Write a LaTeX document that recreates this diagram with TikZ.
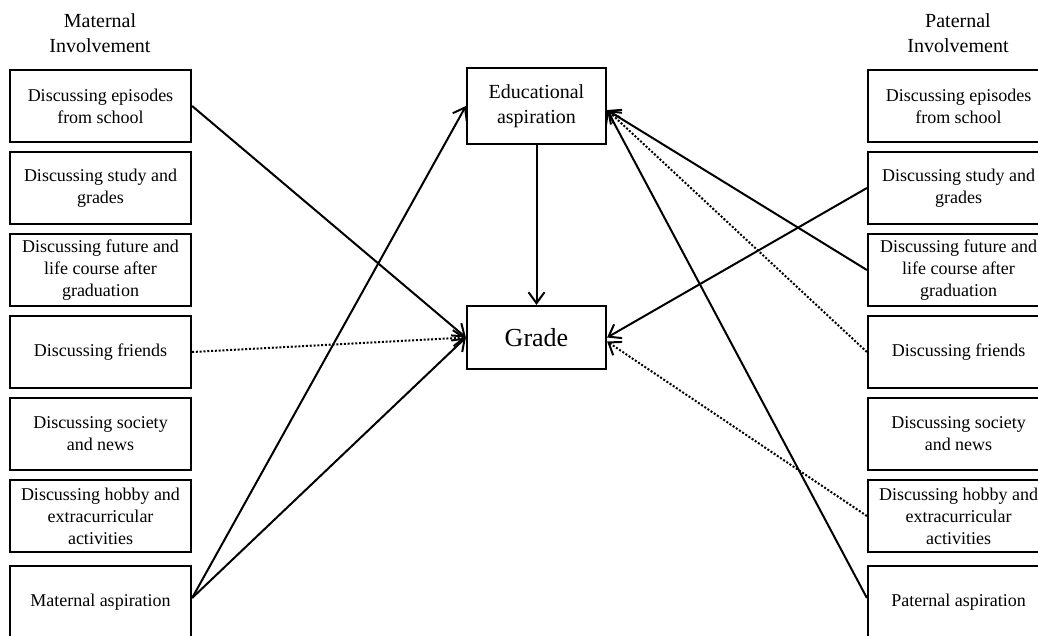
\documentclass[tikz,border=0pt]{standalone}
\usepackage{fontspec}
\setmainfont{Liberation Serif}
\usetikzlibrary{arrows.meta}

\begin{document}
\begin{tikzpicture}[x=1pt, y=-1pt,
    item/.style={draw, line width=2.2pt, minimum width=181pt, minimum height=72pt,
      inner sep=0pt, align=center, font=\fontsize{18}{22}\selectfont},
    outcome/.style={draw, line width=2.2pt, minimum width=139pt, inner sep=0pt, align=center},
    head/.style={align=center, font=\fontsize{20}{25}\selectfont},
    link/.style={line width=2pt, -{Straight Barb[length=11pt, width=16pt, line width=2pt]}},
    weak/.style={link, dash pattern=on 2pt off 1.8pt}]
    \useasboundingbox (0,0) rectangle (1038,635);
    % column titles
    \node[head] (mtitle) at (100,33) {Maternal\\Involvement};
    \node[head] (ptitle) at (958,33) {Paternal\\Involvement};
    % maternal involvement
    \node[item] (m1) at (100.5,106) {Discussing episodes\\from school};
    \node[item] (m2) at (100.5,188) {Discussing study and\\grades};
    \node[item] (m3) at (100.5,270) {Discussing future and\\life course after\\graduation};
    \node[item] (m4) at (100.5,352) {Discussing friends};
    \node[item] (m5) at (100.5,434) {Discussing society\\and news};
    \node[item] (m6) at (100.5,516) {Discussing hobby and\\extracurricular\\activities};
    \node[item] (m7) at (100.5,602) {Maternal aspiration};
    % paternal involvement
    \node[item] (p1) at (958.5,106) {Discussing episodes\\from school};
    \node[item] (p2) at (958.5,188) {Discussing study and\\grades};
    \node[item] (p3) at (958.5,270) {Discussing future and\\life course after\\graduation};
    \node[item] (p4) at (958.5,352) {Discussing friends};
    \node[item] (p5) at (958.5,434) {Discussing society\\and news};
    \node[item] (p6) at (958.5,516) {Discussing hobby and\\extracurricular\\activities};
    \node[item] (p7) at (958.5,602) {Paternal aspiration};
    % outcomes
    \node[outcome, minimum height=76pt, font=\fontsize{20}{25}\selectfont] (edu) at (536.5,106) {Educational\\aspiration};
    \node[outcome, minimum height=63pt, font=\fontsize{26}{30}\selectfont] (grade) at (536.5,337.5) {Grade};
    % paths
    \draw[link] (edu) -- (grade);
    \draw[link] (m1.east) -- (grade.west);
    \draw[weak] (m4.east) -- (grade.west);
    \draw[link] ([yshift=4pt]m7.east) -- (edu.west);
    \draw[link] ([yshift=4pt]m7.east) -- (grade.west);
    \draw[link] (p2.west) -- (grade.east);
    \draw[weak] (p6.west) -- ([yshift=-4pt]grade.east);
    \draw[link] (p3.west) -- ([yshift=-4pt]edu.east);
    \draw[weak] (p4.west) -- ([yshift=-4pt]edu.east);
    \draw[link] ([yshift=4pt]p7.west) -- ([yshift=-4pt]edu.east);
\end{tikzpicture}
\end{document}
